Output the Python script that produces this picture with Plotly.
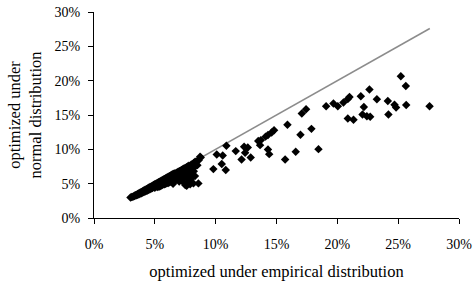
import plotly.graph_objects as go

# Scattered points (percent): optimized under empirical (x) vs normal (y)
emp_sparse = [25.22, 25.63, 25.66, 27.58, 24.70, 24.83, 24.15, 24.20, 23.25, 22.64, 21.93, 22.18, 22.07,
              22.43, 22.70, 21.00, 20.86, 20.50, 20.04, 19.68, 19.08, 20.86, 21.33, 17.43, 17.08, 17.87,
              16.97, 18.45, 16.58, 15.71, 15.90, 14.80, 14.60, 14.30, 14.10, 13.71, 13.50, 13.65, 14.30,
              14.40, 12.34, 12.64, 12.42, 11.65, 12.13, 12.88, 10.88, 10.58, 10.09, 10.50, 9.81, 10.83,
              8.77, 8.31, 8.58, 7.62, 8.72, 8.17, 7.75]
nor_sparse = [20.64, 19.23, 16.47, 16.28, 16.50, 16.09, 17.05, 15.07, 17.30, 18.70, 17.73, 16.18, 15.07,
              14.83, 14.73, 17.63, 17.33, 16.82, 16.28, 16.67, 16.28, 14.49, 14.30, 15.84, 15.21, 12.98,
              12.11, 10.03, 9.64, 8.53, 13.57, 12.79, 12.45, 12.08, 11.85, 11.34, 11.20, 10.61, 9.98,
              9.30, 10.37, 10.27, 9.49, 9.74, 8.53, 8.82, 10.51, 9.11, 9.25, 7.85, 7.12, 6.98,
              8.82, 8.19, 5.04, 4.70, 8.91, 5.04, 5.77]

# Dense cluster points (percent)
emp_dense = [3.0, 3.1, 3.2, 3.3, 3.35, 3.4, 3.5, 3.5, 3.6, 3.6, 3.7, 3.7, 3.8, 3.8, 3.9, 3.9, 4.0, 4.0,
             4.1, 4.1, 4.2, 4.2, 4.3, 4.3, 4.4, 4.4, 4.5, 4.5, 4.6, 4.6, 4.7, 4.7, 4.8, 4.8, 4.9, 4.9,
             5.0, 5.0, 5.0, 5.1, 5.1, 5.2, 5.2, 5.2, 5.3, 5.3, 5.3, 5.4, 5.4, 5.4, 5.5, 5.5, 5.5,
             5.6, 5.6, 5.6, 5.7, 5.7, 5.7, 5.8, 5.8, 5.8, 5.9, 5.9, 5.9, 6.0, 6.0, 6.0, 6.1, 6.1, 6.1,
             6.2, 6.2, 6.2, 6.3, 6.3, 6.3, 6.4, 6.4, 6.4, 6.5, 6.5, 6.5, 6.5, 6.6, 6.6, 6.6, 6.7, 6.7,
             6.7, 6.8, 6.8, 6.8, 6.9, 6.9, 6.9, 7.0, 7.0, 7.0, 7.0, 7.1, 7.1, 7.1, 7.2, 7.2, 7.2, 7.3,
             7.3, 7.3, 7.4, 7.4, 7.4, 7.5, 7.5, 7.5, 7.6, 7.6, 7.7, 7.7, 7.8, 7.8, 7.9, 8.0, 8.0, 8.1,
             8.2, 8.3, 8.4, 8.5, 8.6, 7.3, 7.6, 7.9, 7.5, 8.0, 8.2, 8.3]
nor_dense = [3.0, 3.05, 3.1, 3.2, 3.25, 3.3, 3.4, 3.3, 3.5, 3.4, 3.6, 3.45, 3.7, 3.55, 3.8, 3.6, 3.9, 3.7,
             4.0, 3.8, 4.1, 3.85, 4.2, 3.95, 4.3, 4.0, 4.4, 4.1, 4.5, 4.2, 4.6, 4.3, 4.7, 4.35, 4.8, 4.5,
             4.9, 4.6, 4.4, 5.0, 4.7, 5.1, 4.8, 4.5, 5.2, 4.9, 4.6, 5.3, 5.0, 4.6, 5.4, 5.1, 4.7,
             5.5, 5.2, 4.8, 5.6, 5.3, 4.9, 5.7, 5.3, 4.9, 5.8, 5.4, 5.0, 5.9, 5.5, 5.1, 6.0, 5.6, 5.1,
             6.1, 5.7, 5.2, 6.2, 5.8, 5.3, 6.3, 5.9, 5.4, 6.4, 6.0, 5.5, 5.0, 6.5, 6.1, 5.5, 6.5, 6.0,
             5.6, 6.6, 6.2, 5.7, 6.7, 6.3, 5.8, 6.8, 6.4, 5.9, 5.3, 6.9, 6.5, 6.0, 7.0, 6.6, 5.6, 7.1,
             6.7, 6.2, 7.2, 6.8, 6.3, 7.3, 6.9, 6.0, 7.4, 6.5, 7.5, 6.9, 7.6, 6.6, 7.4, 7.8, 6.5, 7.2,
             8.0, 7.5, 8.2, 7.7, 8.4, 5.3, 5.0, 4.9, 4.8, 5.8, 6.8, 6.1]

# 45-degree reference line
diag_x = [3.0, 27.6]
diag_y = [3.0, 27.6]

tick_vals = [0, 5, 10, 15, 20, 25, 30]
tick_text = ["0%", "5%", "10%", "15%", "20%", "25%", "30%"]

fig = go.Figure()
fig.add_trace(go.Scatter(x=diag_x, y=diag_y, mode="lines",
                         line=dict(color="#8c8c8c", width=1.5), hoverinfo="skip"))
fig.add_trace(go.Scatter(x=emp_dense + emp_sparse, y=nor_dense + nor_sparse, mode="markers",
                         marker=dict(symbol="diamond", size=6.5, color="black", line=dict(width=0))))

font = dict(family="Liberation Serif", size=13, color="black")
fig.update_layout(
    width=474, height=282,
    margin=dict(l=94, r=15, t=12, b=64),
    plot_bgcolor="white", paper_bgcolor="white",
    showlegend=False,
    font=font,
    xaxis=dict(range=[0, 30], tickvals=tick_vals, ticktext=tick_text, showgrid=False, zeroline=False,
               automargin=False,
               showline=True, linecolor="black", linewidth=1, ticks="outside", ticklen=5,
               ticklabelstandoff=8,
               tickcolor="black", tickfont=dict(family="Liberation Serif", size=14),
               title=dict(text="optimized under empirical distribution",
                          font=dict(family="Liberation Serif", size=16.5), standoff=14)),
    yaxis=dict(range=[0, 30], tickvals=tick_vals, ticktext=tick_text, showgrid=False, zeroline=False,
               automargin=False,
               showline=True, linecolor="black", linewidth=1, ticks="outside", ticklen=5,
               ticklabelstandoff=5,
               tickcolor="black", tickfont=dict(family="Liberation Serif", size=14),
               title=dict(text="optimized under<br>normal distribution",
                          font=dict(family="Liberation Serif", size=16.5), standoff=8)),
)
fig.write_html("out.html", config={"displayModeBar": False},
               post_script="document.body.style.margin='0px';")
